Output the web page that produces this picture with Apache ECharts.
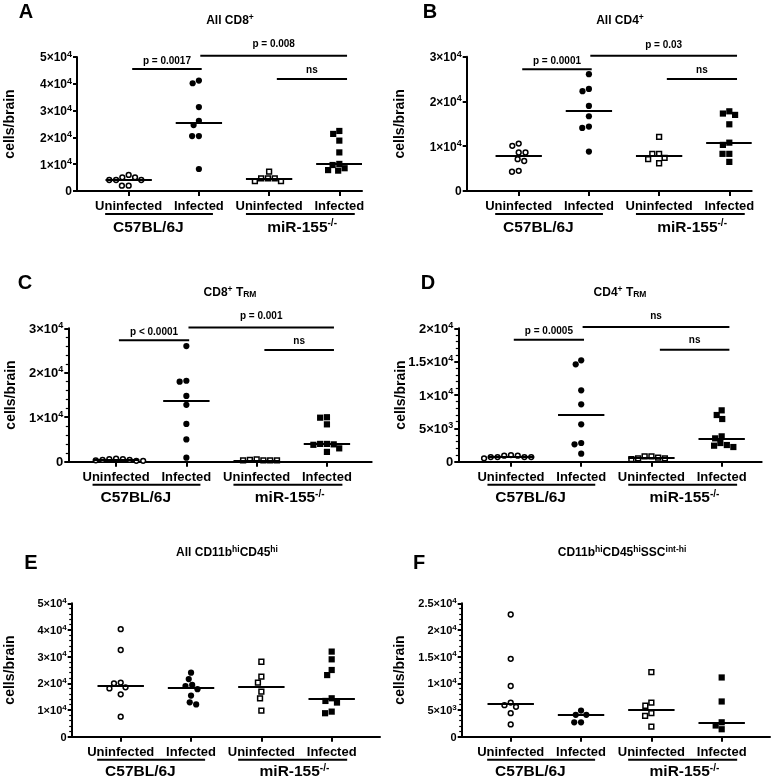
<!DOCTYPE html>
<html><head><meta charset="utf-8">
<script src="https://cdn.jsdelivr.net/npm/echarts@6/dist/echarts.min.js"></script>
<style>html,body{margin:0;padding:0;background:#fff}#c{width:778px;height:779px}</style>
</head><body><div id="c"></div>
<script>
// ---------- data ----------
const categories = ['Uninfected', 'Infected', 'Uninfected', 'Infected'];
const groupNames = ['C57BL/6J', 'miR-155'];
const groupSup = ['', '-/-'];

const yTicksA = [0, 10000, 20000, 30000, 40000, 50000];
const yTicksB = [0, 10000, 20000, 30000];
const yTicksC = [0, 10000, 20000, 30000];
const yTicksD = [0, 5000, 10000, 15000, 20000];
const yTicksE = [0, 10000, 20000, 30000, 40000, 50000];
const yTicksF = [0, 5000, 10000, 15000, 20000, 25000];

// Panel A: All CD8+
const A_c57_uninf = [4100, 6000, 2000, 4100, 5100, 2000, 4100, 5100];
const A_c57_inf = [40200, 41200, 31300, 26200, 24600, 20500, 20500, 8200];
const A_mir_uninf = [3700, 4700, 4700, 7200, 4700, 3700];
const A_mir_inf = [22400, 21300, 18800, 14400, 10100, 7600, 9700, 7800, 8500];
// Panel B: All CD4+
const B_c57_uninf = [10100, 10600, 8600, 8600, 6700, 7100, 4300, 4500];
const B_c57_inf = [26100, 22800, 22300, 19000, 16700, 14400, 14100, 8800];
const B_mir_uninf = [12100, 7400, 8300, 6200, 7100, 8300];
const B_mir_inf = [17800, 17000, 17300, 14900, 10800, 10300, 8300, 8300, 6500];
// Panel C: CD8+ TRM
const C_c57_uninf = [200, 600, 700, 300, 200, 600, 400, 400];
const C_c57_inf = [26000, 18200, 18000, 14800, 12800, 8500, 5000, 900];
const C_mir_uninf = [300, 500, 300, 400, 300, 300];
const C_mir_inf = [10000, 9900, 8400, 3900, 4000, 3800, 4000, 2200, 3000];
// Panel D: CD4+ TRM
const D_c57_uninf = [700, 1000, 700, 900, 500, 900, 700, 700];
const D_c57_inf = [14600, 15200, 10700, 8600, 5600, 2800, 2600, 1200];
const D_mir_uninf = [500, 800, 500, 800, 400, 600];
const D_mir_inf = [7000, 7700, 6400, 3800, 3500, 2800, 2200, 2500, 2400];
// Panel E: All CD11b hi CD45 hi
const E_c57_uninf = [40300, 32500, 20000, 18100, 18500, 20300, 15900, 7500];
const E_c57_inf = [24000, 21600, 19000, 19400, 17800, 15400, 12100, 12900];
const E_mir_uninf = [28100, 22500, 20300, 16900, 14400, 9800];
const E_mir_inf = [31900, 29000, 25000, 23100, 14400, 12800, 13400, 8800, 9400];
// Panel F: CD11b hi CD45 hi SSC int-hi
const F_c57_uninf = [22900, 14600, 9500, 5900, 6400, 5600, 4400, 2300];
const F_c57_inf = [4100, 4900, 4100, 2700, 2700];
const F_mir_uninf = [12100, 6400, 5800, 4400, 3900, 1900];
const F_mir_inf = [11100, 6600, 2700, 2100, 1400];

// significance annotations: [fromCategory, toCategory, y value, label]
const sigA = [[1.05, 2.04, 45500, 'p = 0.0017'], [2.02, 4.11, 50500, 'p = 0.008'], [3.11, 4.11, 41800, 'ns']];
const sigB = [[1.05, 2.04, 27200, 'p = 0.0001'], [2.02, 4.11, 30200, 'p = 0.03'], [3.11, 4.11, 25000, 'ns']];
const sigC = [[1.04, 2.04, 27300, 'p < 0.0001'], [2.03, 4.10, 30200, 'p = 0.001'], [3.11, 4.10, 25100, 'ns']];
const sigD = [[1.04, 2.04, 18300, 'p = 0.0005'], [2.02, 4.11, 20200, 'ns'], [3.12, 4.11, 16800, 'ns']];

// ---------- layout ----------
const FONT = '"Liberation Sans", Arial, Helvetica, sans-serif';
const PANELS = [
  {L: 'A', title: '{t|All CD8}{sup|+}', series: [A_c57_uninf, A_c57_inf, A_mir_uninf, A_mir_inf], ticks: yTicksA, sig: sigA,
   box: [77, 57, 362, 191], xr: [0.264, 4.323], fs: 12, gap: 60, minor: 0, letter: [26, 12], tpos: [230, 20]},
  {L: 'B', title: '{t|All CD4}{sup|+}', series: [B_c57_uninf, B_c57_inf, B_mir_uninf, B_mir_inf], ticks: yTicksB, sig: sigB,
   box: [466.7, 56.7, 751.7, 191], xr: [0.259, 4.319], fs: 12, gap: 60, minor: 0, letter: [430, 12], tpos: [620, 20]},
  {L: 'C', title: '{t|CD8}{sup|+}{t| T}{sub|RM}', series: [C_c57_uninf, C_c57_inf, C_mir_uninf, C_mir_inf], ticks: yTicksC, sig: sigC,
   box: [68.3, 328.3, 371.7, 461.7], xr: [0.32, 4.637], fs: 13, gap: 50, minor: 5, letter: [25, 283], tpos: [230, 292]},
  {L: 'D', title: '{t|CD4}{sup|+}{t| T}{sub|RM}', series: [D_c57_uninf, D_c57_inf, D_mir_uninf, D_mir_inf], ticks: yTicksD, sig: sigD,
   box: [458.3, 328.3, 761.7, 461.7], xr: [0.25, 4.57], fs: 13, gap: 50, minor: 5, letter: [428, 283], tpos: [620, 292]},
  {L: 'E', title: '{t|All CD11b}{sup|hi}{t|CD45}{sup|hi}', series: [E_c57_uninf, E_c57_inf, E_mir_uninf, E_mir_inf], ticks: yTicksE, sig: [],
   box: [71.7, 603.3, 380, 736.7], xr: [0.303, 4.687], fs: 11, gap: 55, minor: 5, letter: [31, 563], tpos: [227, 552]},
  {L: 'F', title: '{t|CD11b}{sup|hi}{t|CD45}{sup|hi}{t|SSC}{sup|int-hi}', series: [F_c57_uninf, F_c57_inf, F_mir_uninf, F_mir_inf], ticks: yTicksF, sig: [],
   box: [461.7, 603.3, 770, 736.7], xr: [0.303, 4.687], fs: 11, gap: 55, minor: 5, letter: [419, 563], tpos: [622, 552]}
];
const sigGap = [8, 11, 9];
const groupSpans = [[0.665, 2.2], [2.67, 4.22]];
const groupCenters = [1.28, 3.47];
const MEDIAN_HW = 0.33;

function median(a) {
  const s = a.slice().sort((x, y) => x - y);
  const n = s.length;
  return n % 2 ? s[(n - 1) / 2] : (s[n / 2 - 1] + s[n / 2]) / 2;
}
function sciLabel(v) {
  if (v === 0) return '{m|0}';
  const e = Math.floor(Math.log10(v) + 1e-9);
  const m = Math.round(v / Math.pow(10, e) * 100) / 100;
  return '{m|' + m + '×10}{e|' + e + '}';
}

const chart = echarts.init(document.getElementById('c'), null, {renderer: 'canvas', width: 778, height: 779});

function buildSeries(offsets) {
  const s = [];
  PANELS.forEach((p, pi) => {
    p.series.forEach((vals, gi) => {
      const cat = gi + 1;
      const open = gi % 2 === 0;
      const sq = gi >= 2;
      const med = median(vals);
      s.push({
        type: 'scatter', xAxisIndex: pi, yAxisIndex: pi,
        symbol: sq ? 'rect' : 'circle',
        symbolSize: open ? 4.8 : 6.2,
        itemStyle: open ? {color: '#fff', borderColor: '#000', borderWidth: 1.5, opacity: 1} : {color: '#000', opacity: 1},
        emphasis: {disabled: true},
        data: vals.map((v, k) => ({value: [cat, v], symbolOffset: [offsets ? offsets[pi][gi][k] : 0, 0]})),
        markLine: {
          silent: true, symbol: ['none', 'none'], label: {show: false}, animation: false,
          lineStyle: {color: '#000', width: 2, type: 'solid'},
          emphasis: {disabled: true},
          data: [[{coord: [Math.max(cat - MEDIAN_HW, p.xr[0]), med]}, {coord: [Math.min(cat + MEDIAN_HW, p.xr[1]), med]}]]
        },
        z: 3
      });
    });
  });
  return s;
}

const option = {
  animation: false,
  backgroundColor: '#fff',
  textStyle: {fontFamily: FONT},
  grid: PANELS.map(p => ({left: p.box[0], top: p.box[1], width: p.box[2] - p.box[0], height: p.box[3] - p.box[1], containLabel: false, outerBoundsMode: 'none'})),
  xAxis: PANELS.map((p, i) => ({
    type: 'value', gridIndex: i, min: p.xr[0], max: p.xr[1],
    axisLine: {show: true, onZero: false, lineStyle: {color: '#000', width: 2}},
    axisTick: {show: true, customValues: [1, 2, 3, 4], length: 5, lineStyle: {color: '#000', width: 2}},
    axisLabel: {show: true, customValues: [1, 2, 3, 4], margin: 9, color: '#000', fontSize: 13, fontWeight: 'bold', fontFamily: FONT,
      formatter: v => categories[Math.round(v) - 1] || ''},
    splitLine: {show: false}
  })),
  yAxis: PANELS.map((p, i) => {
    const es = Math.round(p.fs * 0.72);
    return {
      type: 'value', gridIndex: i, min: p.ticks[0], max: p.ticks[p.ticks.length - 1], interval: p.ticks[1] - p.ticks[0],
      name: 'cells/brain', nameLocation: 'middle', nameRotate: 90, nameGap: p.gap, nameMoveOverlap: false,
      nameTextStyle: {fontSize: 14, fontWeight: 'bold', color: '#000', fontFamily: FONT},
      axisLine: {show: true, onZero: false, lineStyle: {color: '#000', width: 2}},
      axisTick: {show: true, length: 4, lineStyle: {color: '#000', width: 2}},
      minorTick: {show: p.minor > 0, splitNumber: p.minor || 5, length: 2.5, lineStyle: {color: '#000', width: 1.2}},
      splitLine: {show: false}, minorSplitLine: {show: false},
      axisLabel: {
        show: true, margin: 5, formatter: sciLabel,
        rich: {
          m: {fontSize: p.fs, fontWeight: 'bold', color: '#000', fontFamily: FONT, lineHeight: p.fs + 2, verticalAlign: 'bottom'},
          e: {fontSize: es, fontWeight: 'bold', color: '#000', fontFamily: FONT, lineHeight: es, verticalAlign: 'top'}
        }
      }
    };
  }),
  series: buildSeries(null)
};
chart.setOption(option);

// ---------- second pass: swarm offsets and annotations through the chart's own scales ----------
function swarm(pys, D) {
  const idx = pys.map((p, i) => i).sort((a, b) => pys[a] - pys[b]);
  const placed = [];
  const out = new Array(pys.length).fill(0);
  for (const i of idx) {
    const y = pys[i];
    const near = placed.filter(q => Math.abs(q.y - y) < D);
    const cands = [0];
    near.forEach(q => { const h = Math.sqrt(D * D - (q.y - y) * (q.y - y)); cands.push(q.x + h, q.x - h); });
    cands.sort((a, b) => Math.abs(a) - Math.abs(b) || a - b);
    let best = 0;
    for (const c of cands) {
      if (near.every(q => (q.x - c) * (q.x - c) + (q.y - y) * (q.y - y) >= D * D - 0.01)) { best = c; break; }
    }
    placed.push({x: best, y});
    out[i] = best;
  }
  return out;
}

const offsets = PANELS.map((p, pi) => p.series.map((vals, gi) => {
  const pys = vals.map(v => chart.convertToPixel({gridIndex: pi}, [gi + 1, v])[1]);
  return swarm(pys, 6.8);
}));

const TXT = (x, y, text, rich, font, align, va) => ({
  type: 'text', x, y, silent: true, z: 10,
  style: {text, rich: rich || {}, font, fill: '#000', align: align || 'center', verticalAlign: va || 'middle',
          textAlign: align || 'center', textVerticalAlign: va || 'middle'}
});
const LINE = (x1, y1, x2, y2) => ({type: 'line', silent: true, z: 10, shape: {x1, y1, x2, y2}, style: {stroke: '#000', lineWidth: 2}});

const titleRich = {
  t: {fontSize: 12, fontWeight: 'bold', fontFamily: FONT, color: '#000', lineHeight: 14, verticalAlign: 'bottom'},
  sup: {fontSize: 8.5, fontWeight: 'bold', fontFamily: FONT, color: '#000', lineHeight: 8.5, verticalAlign: 'top'},
  sub: {fontSize: 8.5, fontWeight: 'bold', fontFamily: FONT, color: '#000', lineHeight: 8.5, verticalAlign: 'bottom'}
};
const groupRich = {
  g: {fontSize: 15.5, fontWeight: 'bold', fontFamily: FONT, color: '#000', lineHeight: 17, verticalAlign: 'bottom'},
  gs: {fontSize: 10, fontWeight: 'bold', fontFamily: FONT, color: '#000', lineHeight: 10, verticalAlign: 'top'}
};

const graphics = [];
PANELS.forEach((p, pi) => {
  const px = (x, y) => chart.convertToPixel({gridIndex: pi}, [x, y]);
  graphics.push(TXT(p.letter[0], p.letter[1], p.L, null, 'bold 20px ' + FONT));
  graphics.push(TXT(p.tpos[0], p.tpos[1], p.title, titleRich, 'bold 12px ' + FONT));
  const yb = px(1, 0)[1];
  const gOff = pi >= 4 ? 35 : 36;
  groupSpans.forEach((sp, gi) => {
    const a = px(sp[0], 0)[0], b = px(sp[1], 0)[0];
    graphics.push(LINE(a, yb + 23, b, yb + 23));
    const c = px(groupCenters[gi], 0)[0];
    const t = '{g|' + groupNames[gi] + '}' + (groupSup[gi] ? '{gs|' + groupSup[gi] + '}' : '');
    graphics.push(TXT(c, yb + gOff, t, groupRich, 'bold 15.5px ' + FONT));
  });
  p.sig.forEach((s, si) => {
    const a = px(s[0], s[2]), b = px(s[1], s[2]);
    graphics.push(LINE(a[0], a[1], b[0], b[1]));
    graphics.push(TXT((a[0] + b[0]) / 2, a[1] - sigGap[si], s[3], null, 'bold 10px ' + FONT));
  });
});

chart.setOption({series: buildSeries(offsets), graphic: graphics});
</script>
</body></html>
